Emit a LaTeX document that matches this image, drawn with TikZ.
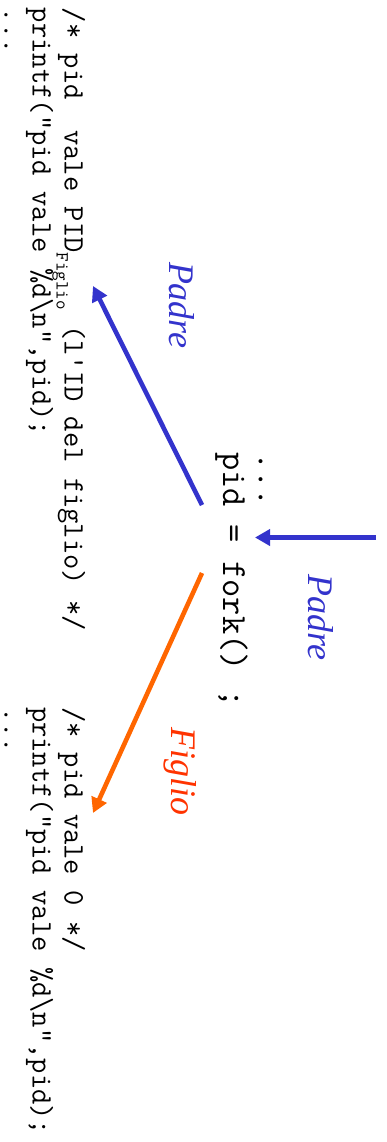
\documentclass[tikz,border=0pt]{standalone}
\usepackage{fontspec}
\usetikzlibrary{arrows.meta}
\newfontfamily\lblfont{Liberation Serif}
\definecolor{padreblue}{RGB}{51,51,204}
\definecolor{figlioorange}{RGB}{255,102,0}
\definecolor{figliored}{RGB}{255,51,0}
\frenchspacing
\newcommand{\subfig}[1]{\raisebox{-8pt}{\fontsize{18.5}{18.5}\selectfont #1}}
\begin{document}
\begin{tikzpicture}[x=1pt,y=-1pt,
  txt/.style={rotate=-90,anchor=base west,inner sep=0pt,outer sep=0pt},
  code/.style={txt,font={\ttfamily\fontsize{29.7}{29.7}\selectfont}},
  codebig/.style={txt,font={\ttfamily\fontsize{35.4}{35.4}\selectfont}},
  lbl/.style={txt,font={\lblfont\itshape\fontsize{36}{36}\selectfont}},
  arr/.style={line width=4.6pt,-{Triangle[length=15pt,width=16pt]}}]
\useasboundingbox (0,0) rectangle (387,1142);
% left block
\node[code] (l1) at (64.5,8) {/* pid~ vale PID\subfig{Figlio} (l'ID del figlio) */};
\node[code] (l2) at (32.5,8) {printf("pid vale \%d\textbackslash n",pid);};
\node[code] (l3) at (4.5,8) {...};
% center
\node[codebig] (c1) at (258.5,452) {...};
\node[codebig] (c2) at (223,452) {pid = fork() ;};
% right block
\node[code] (r1) at (64.5,707) {/* pid vale 0 */};
\node[code] (r2) at (32.5,707) {printf("pid vale \%d\textbackslash n",pid);};
\node[code] (r3) at (4.5,707) {...};
% labels
\node[lbl,text=padreblue] (padre1) at (308,574) {Padre};
\node[lbl,text=padreblue] (padre2) at (169,262) {Padre};
\node[lbl,text=figliored] (figlio) at (171,727) {Figlio};
% arrows
\coordinate (hs) at (376,537.5);
\coordinate (ht) at (255,537.5);
\coordinate (ps) at (202,505);
\coordinate (pt) at (93,286);
\coordinate (fs) at (202,573);
\coordinate (ft) at (93,813);
\draw[arr,padreblue] (hs) -- (ht);
\draw[arr,padreblue] (ps) -- (pt);
\draw[arr,figlioorange] (fs) -- (ft);
\end{tikzpicture}
\end{document}
